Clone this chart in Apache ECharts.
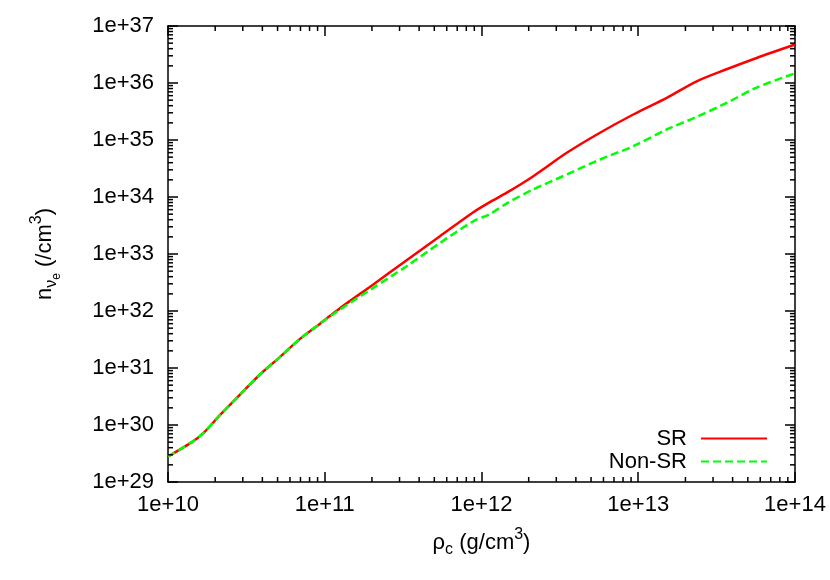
<!DOCTYPE html>
<html>
<head>
<meta charset="utf-8">
<script src="https://cdn.jsdelivr.net/npm/echarts@6/dist/echarts.min.js"></script>
<style>
html,body{margin:0;padding:0;background:#fff;}
#chart{width:830px;height:580px;}
</style>
</head>
<body>
<div id="chart"></div>
<script>
// central density rho_c (g/cm^3)
const rho = [1.0e10, 1.42e10, 1.68e10, 2.15e10, 2.88e10, 3.86e10, 5.19e10, 6.95e10, 9.33e10, 1.25e11, 2.04e11, 3.33e11, 5.43e11, 8.87e11, 1.13e12, 1.45e12, 2.14e12, 3.50e12, 5.70e12, 9.29e12, 1.52e13, 2.36e13, 3.66e13, 5.69e13, 1.0e14];
// electron-neutrino number density (/cm^3)
const nSR  = [2.8e29, 5.0e29, 7.2e29, 1.5e30, 3.4e30, 7.7e30, 1.57e31, 3.24e31, 6.0e31, 1.12e32, 2.92e32, 7.78e32, 2.05e33, 5.41e33, 8.11e33, 1.19e34, 2.32e34, 5.96e34, 1.34e35, 2.80e35, 5.5e35, 1.07e36, 1.74e36, 2.75e36, 4.73e36];
const nNon = [2.8e29, 5.0e29, 7.2e29, 1.5e30, 3.4e30, 7.7e30, 1.57e31, 3.24e31, 6.0e31, 1.06e32, 2.55e32, 6.11e32, 1.56e33, 3.76e33, 5.0e33, 7.75e33, 1.36e34, 2.48e34, 4.55e34, 7.78e34, 1.53e35, 2.55e35, 4.47e35, 8.3e35, 1.48e36];
const seriesNames = ['SR', 'Non-SR'];
const xRange = [1e10, 1e14];
const yRange = [1e29, 1e37];

function minorTicks(lo, hi) {
  const out = [];
  for (let e = Math.round(Math.log10(lo)); e < Math.round(Math.log10(hi)); e++) {
    for (let k = 2; k <= 9; k++) out.push(k * Math.pow(10, e));
  }
  return out;
}
const xMinor = minorTicks(xRange[0], xRange[1]);
const yMinor = minorTicks(yRange[0], yRange[1]);

const FONT = '"Liberation Sans", Arial, sans-serif';
const fmt = v => '1e+' + Math.round(Math.log10(v));

const chart = echarts.init(document.getElementById('chart'), null, {renderer: 'canvas'});

const base = {fontSize: 22, lineHeight: 36, fontFamily: FONT, color: '#000', verticalAlign: 'middle'};
const rich = {
  b: base,
  s: {fontSize: 16, lineHeight: 16, fontFamily: FONT, color: '#000', verticalAlign: 'bottom', padding: [0,0,3,0]},
  ss: {fontSize: 12, lineHeight: 8, fontFamily: FONT, color: '#000', verticalAlign: 'bottom', padding: [0,0,0,0]},
  sup: {fontSize: 16, lineHeight: 16, fontFamily: FONT, color: '#000', verticalAlign: 'top', padding: [2,0,0,0]}
};

const axisCommon = {
  type: 'log', logBase: 10,
  axisLine: {show: true, onZero: false, lineStyle: {color: '#000', width: 1.5}},
  axisTick: {show: true, inside: true, length: 10, lineStyle: {color: '#000', width: 1.5}},
  splitLine: {show: false},
  minorTick: {show: false},
  minorSplitLine: {show: false}
};

function minorSeries(values, isX) {
  return {
    type: 'custom',
    xAxisIndex: 0, yAxisIndex: 0,
    silent: true,
    clip: false,
    z: 10,
    data: values.map(v => isX ? [v, 1e33] : [1e12, v]),
    renderItem: function (params, api) {
      const L = 5;
      const st = {stroke: '#000', lineWidth: 1.5};
      if (isX) {
        const v = api.value(0);
        const b = api.coord([v, yRange[0]]);
        const t = api.coord([v, yRange[1]]);
        return {type: 'group', children: [
          {type: 'line', shape: {x1: b[0], y1: b[1], x2: b[0], y2: b[1] - L}, style: st},
          {type: 'line', shape: {x1: t[0], y1: t[1], x2: t[0], y2: t[1] + L}, style: st}
        ]};
      } else {
        const v = api.value(1);
        const l = api.coord([xRange[0], v]);
        const r = api.coord([xRange[1], v]);
        return {type: 'group', children: [
          {type: 'line', shape: {x1: l[0], y1: l[1], x2: l[0] + L, y2: l[1]}, style: st},
          {type: 'line', shape: {x1: r[0], y1: r[1], x2: r[0] - L, y2: r[1]}, style: st}
        ]};
      }
    }
  };
}

const option = {
  backgroundColor: '#fff',
  animation: false,
  grid: {left: 168, right: 35, top: 26, bottom: 98, containLabel: false},
  legend: {
    data: seriesNames,
    orient: 'vertical',
    align: 'right',
    right: 62,
    top: 427,
    padding: 0,
    itemWidth: 66,
    itemHeight: 14,
    itemGap: 0,
    itemStyle: {opacity: 0},
    textStyle: {fontSize: 22, fontFamily: FONT, color: '#000', lineHeight: 23, padding: [0, 9, 0, 0]}
  },
  xAxis: [
    Object.assign({}, axisCommon, {
      min: xRange[0], max: xRange[1], splitNumber: 4, position: 'bottom',
      axisLabel: {formatter: fmt, fontSize: 22, fontFamily: FONT, color: '#000', margin: 12},
      name: '{b|ρ}{s|c}{b| (g/cm}{sup|3}{b|)}',
      nameLocation: 'middle', nameGap: 43,
      nameTextStyle: {rich: rich}
    }),
    Object.assign({}, axisCommon, {
      min: xRange[0], max: xRange[1], splitNumber: 4, position: 'top',
      axisLabel: {show: false}
    })
  ],
  yAxis: [
    Object.assign({}, axisCommon, {
      min: yRange[0], max: yRange[1], splitNumber: 8, position: 'left',
      axisLabel: {formatter: fmt, fontSize: 22, fontFamily: FONT, color: '#000', margin: 14},
      name: '{b|n}{s|ν}{ss|e}{b| (/cm}{sup|3}{b|)}',
      nameLocation: 'middle', nameGap: 105, nameRotate: 90,
      nameTextStyle: {rich: rich}
    }),
    Object.assign({}, axisCommon, {
      min: yRange[0], max: yRange[1], splitNumber: 8, position: 'right',
      axisLabel: {show: false}
    })
  ],
  series: [
    {
      name: seriesNames[0], type: 'line', xAxisIndex: 0, yAxisIndex: 0,
      data: rho.map((x, i) => [x, nSR[i]]),
      symbol: 'none', showSymbol: false, smooth: 0.3,
      lineStyle: {color: '#ff0000', width: 2.5, type: 'solid'},
      itemStyle: {color: '#ff0000'},
      z: 3
    },
    {
      name: seriesNames[1], type: 'line', xAxisIndex: 0, yAxisIndex: 0,
      data: rho.map((x, i) => [x, nNon[i]]),
      symbol: 'none', showSymbol: false, smooth: 0.3,
      lineStyle: {color: '#00ff00', width: 2.5, type: [8, 4]},
      itemStyle: {color: '#00ff00'},
      z: 4
    },
    minorSeries(xMinor, true),
    minorSeries(yMinor, false)
  ]
};
chart.setOption(option);
</script>
</body>
</html>
